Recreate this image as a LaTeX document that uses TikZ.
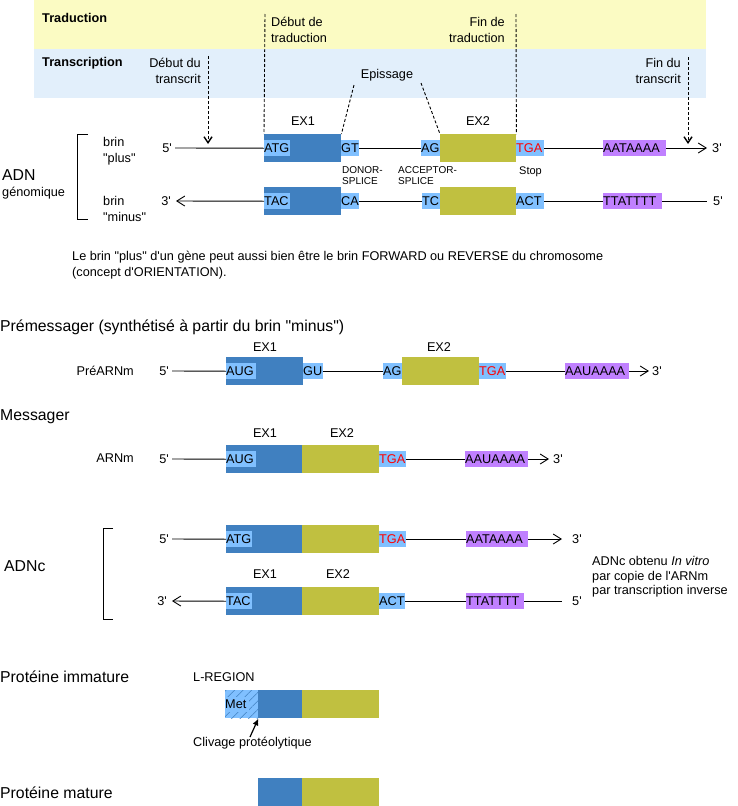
\documentclass[tikz,border=0pt]{standalone}
\usepackage{fontspec}
\setmainfont{Liberation Sans}[Ligatures=TeXOff]
\usetikzlibrary{arrows.meta,patterns.meta}
\definecolor{dkblue}{HTML}{4080C0}
\definecolor{ltblue}{HTML}{80C0FF}
\definecolor{olivex}{HTML}{C0C040}
\definecolor{purp}{HTML}{C080FF}
\definecolor{bandA}{HTML}{FBFBC3}
\definecolor{bandB}{HTML}{E2EFFB}
\newcommand\nrm{\fontsize{12.7}{15.5}\selectfont}
\newcommand\lrg{\fontsize{15.8}{18}\selectfont}
\newcommand\sml{\fontsize{10}{11}\selectfont}
\newcommand\seqbox[6]{\node[#2, anchor=west, minimum width=#5pt, text width=#5pt, align=left] (#1) at (#3,#4) {#6};}
\newcommand\exbox[6]{\node[#2, anchor=north west, minimum width=#5pt, minimum height=#6pt] (#1) at (#3,#4) {};}
\begin{document}
\begin{tikzpicture}[x=1pt,y=-1pt,
  every node/.style={inner sep=0pt, font=\nrm},
  exonA/.style={fill=dkblue},
  exonB/.style={fill=olivex},
  seq/.style={fill=ltblue, minimum height=16pt},
  stopseq/.style={seq, text=red},
  poly/.style={fill=purp, minimum height=16pt},
  strand/.style={line width=0.9pt},
  tip/.style={-{Straight Barb[length=8pt,width=10pt,line width=0.9pt]}},
  vtip/.style={-{Straight Barb[length=6pt,width=8pt,line width=1.4pt]}},
  dline/.style={line width=0.9pt, dash pattern=on 3pt off 2pt},
  exlab/.style={font=\nrm},
  twoline/.style={align=left, font=\nrm},
]
\useasboundingbox (0,0) rectangle (737,806);
% bands
\fill[bandA] (34,0) rectangle (706,49);
\fill[bandB] (34,49) rectangle (706,98);
\node[anchor=west, font=\nrm\bfseries] (trad) at (42,18) {Traduction};
\node[anchor=west, font=\nrm\bfseries] (trans) at (42,63) {Transcription};
\node[anchor=east, align=right] (ddt) at (201,71) {Début du\\transcrit};
\node[anchor=west, align=left] (dtr) at (271,30) {Début de\\traduction};
\node[anchor=east, align=right] (ftr) at (505,30) {Fin de\\traduction};
\node[anchor=east, align=right] (fdt) at (681,71) {Fin du\\transcrit};
\node (epi) at (387,75) {Epissage};

% ADN genomique
\draw[line width=0.9pt] (88,134) -- (77,134) -- (77,219) -- (88,219);
\node[anchor=west, font=\lrg] (adn) at (2,175) {ADN};
\node[anchor=west] (gen) at (2,193) {génomique};
\node[twoline, anchor=west] (bp) at (103,151) {brin\\"plus"};
\node[twoline, anchor=west] (bm) at (103,209) {brin\\"minus"};

\exbox{pEa}{exonA}{264}{134}{77}{28}
\exbox{pEb}{exonB}{440}{134}{76}{28}
\seqbox{pATG}{seq}{264}{148}{26}{ATG}
\seqbox{pGT}{seq}{341}{148}{18}{GT}
\seqbox{pAG}{seq}{421}{148}{19}{AG}
\seqbox{pTGA}{stopseq}{516}{148}{28}{TGA}
\seqbox{pPA}{poly}{603}{148}{63}{AATAAAA}
\node[anchor=east] (p5) at (172,148) {5'};
\node[anchor=west] (p3) at (712,148) {3'};
\draw[strand] (p5.east) ++(3,0) -- (pEa.west);
\draw[strand] (pGT.east) -- (pAG.west);
\draw[strand] (pTGA.east) -- (pPA.west);
\draw[strand, tip, shorten >=5pt] (pPA.east) -- (p3.west);
\node[exlab] (lpa) at (303,121) {EX1};
\node[exlab] (lpb) at (478,121) {EX2};

\exbox{mEa}{exonA}{264}{187}{77}{28}
\exbox{mEb}{exonB}{440}{187}{76}{28}
\seqbox{mTAC}{seq}{264}{201}{26}{TAC}
\seqbox{mCA}{seq}{341}{201}{18}{CA}
\seqbox{mTC}{seq}{422}{201}{18}{TC}
\seqbox{mACT}{seq}{516}{201}{28}{ACT}
\seqbox{mPA}{poly}{603}{201}{59}{TTATTTT}
\node[anchor=east] (m3) at (171,201) {3'};
\node[anchor=west] (m5) at (713,201) {5'};
\draw[strand, tip, shorten >=5pt] (mEa.west) -- (m3.east);
\draw[strand] (mCA.east) -- (mTC.west);
\draw[strand] (mACT.east) -- (mPA.west);
\draw[strand, shorten >=6pt] (mPA.east) -- (m5.west);

\node[anchor=west, align=left, font=\sml] (don) at (342,176) {DONOR-\\SPLICE};
\node[anchor=west, align=left, font=\sml] (acc) at (398,176) {ACCEPTOR-\\SPLICE};
\node[anchor=west, font=\fontsize{11}{12}\selectfont] (stop) at (519,172) {Stop};

% dashed markers
\coordinate (c1) at (208,56);
\coordinate (c1e) at (208,144);
\draw[dline, vtip] (c1) -- (c1e);
\coordinate (c2) at (265,14);
\draw[dline] (c2) -- (pEa.north west);
\coordinate (c3) at (516,14);
\draw[dline] (c3) -- (pEb.north east);
\coordinate (c4) at (688,57);
\coordinate (c4e) at (688,144);
\draw[dline, vtip] (c4) -- (c4e);
\coordinate (e1) at (354,85);
\draw[dline] (e1) -- (pEa.north east);
\coordinate (e2) at (421,83);
\draw[dline] (e2) -- (pEb.north west);

\node[anchor=west, align=left] (par) at (72,265) {Le brin "plus" d'un gène peut aussi bien être le brin FORWARD ou REVERSE du chromosome\\(concept d'ORIENTATION).};

% Premessager
\node[anchor=west, font=\lrg] (prem) at (0,327) {Prémessager (synthétisé à partir du brin "minus")};
\node[anchor=east] (prearn) at (134,371) {PréARNm};
\node[anchor=east] (r5) at (169,371) {5'};
\exbox{rEa}{exonA}{226}{357}{77}{28}
\exbox{rEb}{exonB}{402}{357}{77}{28}
\seqbox{rAUG}{seq}{226}{371}{30}{AUG}
\seqbox{rGU}{seq}{303}{371}{20}{GU}
\seqbox{rAG}{seq}{383}{371}{19}{AG}
\seqbox{rTGA}{stopseq}{479}{371}{27}{TGA}
\seqbox{rPA}{poly}{565}{371}{64}{AAUAAAA}
\node[anchor=west] (r3) at (652,371) {3'};
\draw[strand] (r5.east) ++(3,0) -- (rEa.west);
\draw[strand] (rGU.east) -- (rAG.west);
\draw[strand] (rTGA.east) -- (rPA.west);
\draw[strand, tip, shorten >=3pt] (rPA.east) -- (r3.west);
\node[exlab] (lra) at (265,347) {EX1};
\node[exlab] (lrb) at (439,347) {EX2};

% Messager
\node[anchor=west, font=\lrg] (mess) at (0,417) {Messager};
\node[anchor=east] (arn) at (134,458) {ARNm};
\node[anchor=east] (g5) at (169,459) {5'};
\exbox{gEa}{exonA}{226}{445}{76}{28}
\exbox{gEb}{exonB}{302}{445}{77}{28}
\seqbox{gAUG}{seq}{226}{459}{30}{AUG}
\seqbox{gTGA}{stopseq}{379}{459}{27}{TGA}
\seqbox{gPA}{poly}{465}{459}{63}{AAUAAAA}
\node[anchor=west] (g3) at (553,459) {3'};
\draw[strand] (g5.east) ++(3,0) -- (gEa.west);
\draw[strand] (gTGA.east) -- (gPA.west);
\draw[strand, tip, shorten >=4pt] (gPA.east) -- (g3.west);
\node[exlab] (lga) at (265,433) {EX1};
\node[exlab] (lgb) at (342,433) {EX2};

% ADNc
\draw[line width=0.9pt] (113,528) -- (103,528) -- (103,619) -- (113,619);
\node[anchor=west, font=\lrg] (adnc) at (4,566) {ADNc};
\node[anchor=east] (c5) at (169,539) {5'};
\exbox{cEa}{exonA}{226}{525}{76}{28}
\exbox{cEb}{exonB}{302}{525}{77}{28}
\seqbox{cATG}{seq}{226}{539}{26}{ATG}
\seqbox{cTGA}{stopseq}{379}{539}{27}{TGA}
\seqbox{cPA}{poly}{466}{539}{62}{AATAAAA}
\node[anchor=west] (c3n) at (572,539) {3'};
\draw[strand] (c5.east) ++(3,0) -- (cEa.west);
\draw[strand] (cTGA.east) -- (cPA.west);
\draw[strand, tip, shorten >=10pt] (cPA.east) -- (c3n.west);
\node[exlab] (lca) at (265,574) {EX1};
\node[exlab] (lcb) at (338,574) {EX2};

\node[anchor=east] (d3) at (167,601) {3'};
\exbox{dEa}{exonA}{226}{587}{76}{28}
\exbox{dEb}{exonB}{302}{587}{77}{28}
\seqbox{dTAC}{seq}{226}{601}{26}{TAC}
\seqbox{dACT}{seq}{379}{601}{26}{ACT}
\seqbox{dPA}{poly}{466}{601}{58}{TTATTTT}
\node[anchor=west] (d5) at (572,601) {5'};
\draw[strand, tip, shorten >=5pt] (dEa.west) -- (d3.east);
\draw[strand] (dACT.east) -- (dPA.west);
\draw[strand, shorten >=10pt] (dPA.east) -- (d5.west);

\node[anchor=west, align=left, font=\fontsize{12.7}{14.5}\selectfont] (cnote) at (592,577) {ADNc obtenu \textit{In vitro}\\par copie de l'ARNm\\par transcription inverse};

% Proteine immature
\node[anchor=west, font=\lrg] (pimm) at (0,677) {Protéine immature};
\node[anchor=west] (lreg) at (193,677) {L-REGION};
\node[fill=ltblue, anchor=north west, minimum width=33pt, minimum height=28pt,
  postaction={pattern={Lines[angle=45,distance=6pt,line width=0.5pt]}, pattern color=dkblue}] (met) at (225,690) {};
\node[fill=ltblue, anchor=west, minimum width=24pt, text width=24pt, minimum height=15pt, align=left] (metl) at (225,704) {Met};
\exbox{iEa}{exonA}{258}{690}{44}{28}
\exbox{iEb}{exonB}{302}{690}{77}{28}
\coordinate (clt) at (250,737);
\draw[-{Latex[length=7pt,width=6pt]}, line width=1.2pt] (clt) -- (met.south east);
\node[anchor=west] (cliv) at (193,743) {Clivage protéolytique};

% Proteine mature
\node[anchor=west, font=\lrg] (pmat) at (0,793) {Protéine mature};
\exbox{tEa}{exonA}{258}{778}{44}{28}
\exbox{tEb}{exonB}{302}{778}{77}{28}
\end{tikzpicture}
\end{document}
